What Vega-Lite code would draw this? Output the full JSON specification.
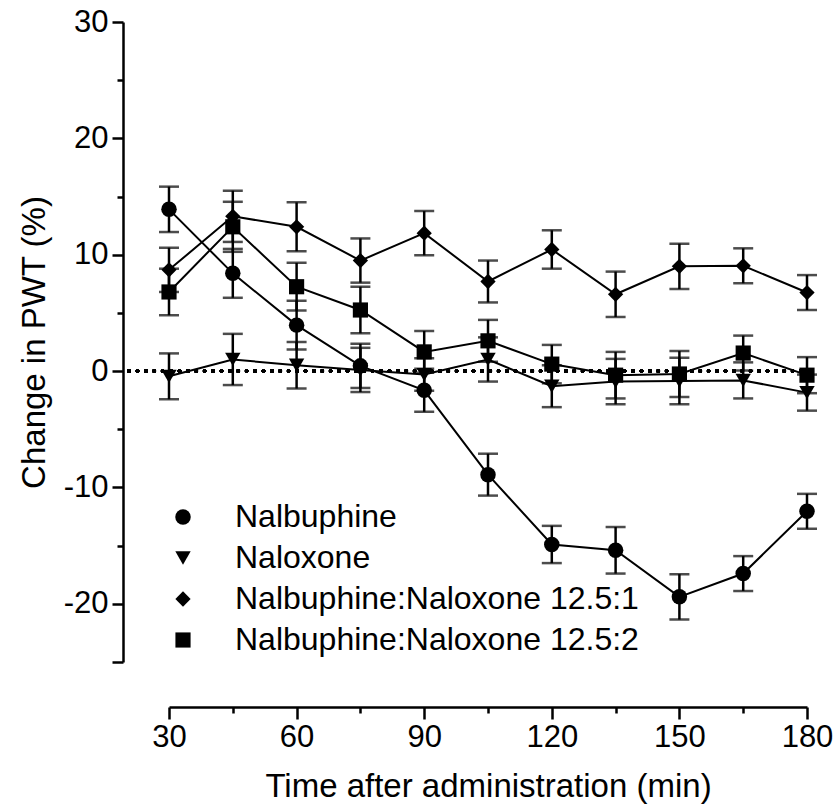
{
  "$schema": "https://vega.github.io/schema/vega-lite/v6.json",
  "width": 638,
  "height": 640,
  "autosize": {"type": "none"},
  "padding": {"left": 169, "top": 22, "right": 27, "bottom": 147},
  "background": "white",
  "config": {
    "view": {"stroke": null},
    "font": "Liberation Sans",
    "axis": {"grid": false, "domainColor": "black", "tickColor": "black", "labelColor": "black", "titleColor": "black", "labelFont": "Liberation Sans", "titleFont": "Liberation Sans", "titleFontWeight": "normal", "domainWidth": 2.5, "tickWidth": 2.5, "labelOverlap": false, "labelFlush": false, "labelBound": false}
  },
  "data": {"values": [
    {"series": "Nalbuphine", "time": 30, "mean": 13.9, "sem": 1.95},
    {"series": "Nalbuphine", "time": 45, "mean": 8.4, "sem": 2.1},
    {"series": "Nalbuphine", "time": 60, "mean": 3.95, "sem": 2.1},
    {"series": "Nalbuphine", "time": 75, "mean": 0.45, "sem": 1.9},
    {"series": "Nalbuphine", "time": 90, "mean": -1.65, "sem": 1.85},
    {"series": "Nalbuphine", "time": 105, "mean": -8.9, "sem": 1.8},
    {"series": "Nalbuphine", "time": 120, "mean": -14.9, "sem": 1.6},
    {"series": "Nalbuphine", "time": 135, "mean": -15.4, "sem": 2.0},
    {"series": "Nalbuphine", "time": 150, "mean": -19.4, "sem": 1.95},
    {"series": "Nalbuphine", "time": 165, "mean": -17.4, "sem": 1.5},
    {"series": "Nalbuphine", "time": 180, "mean": -12.05, "sem": 1.5},
    {"series": "Naloxone", "time": 30, "mean": -0.45, "sem": 1.97},
    {"series": "Naloxone", "time": 45, "mean": 1.0, "sem": 2.2},
    {"series": "Naloxone", "time": 60, "mean": 0.5, "sem": 2.0},
    {"series": "Naloxone", "time": 75, "mean": 0.1, "sem": 1.9},
    {"series": "Naloxone", "time": 90, "mean": -0.3, "sem": 1.4},
    {"series": "Naloxone", "time": 105, "mean": 1.0, "sem": 1.9},
    {"series": "Naloxone", "time": 120, "mean": -1.3, "sem": 1.8},
    {"series": "Naloxone", "time": 135, "mean": -0.9, "sem": 1.95},
    {"series": "Naloxone", "time": 150, "mean": -0.85, "sem": 2.0},
    {"series": "Naloxone", "time": 165, "mean": -0.8, "sem": 1.55},
    {"series": "Naloxone", "time": 180, "mean": -1.85, "sem": 1.55},
    {"series": "Nalbuphine:Naloxone 12.5:1", "time": 30, "mean": 8.7, "sem": 1.9},
    {"series": "Nalbuphine:Naloxone 12.5:1", "time": 45, "mean": 13.3, "sem": 2.2},
    {"series": "Nalbuphine:Naloxone 12.5:1", "time": 60, "mean": 12.4, "sem": 2.1},
    {"series": "Nalbuphine:Naloxone 12.5:1", "time": 75, "mean": 9.5, "sem": 1.9},
    {"series": "Nalbuphine:Naloxone 12.5:1", "time": 90, "mean": 11.85, "sem": 1.9},
    {"series": "Nalbuphine:Naloxone 12.5:1", "time": 105, "mean": 7.7, "sem": 1.8},
    {"series": "Nalbuphine:Naloxone 12.5:1", "time": 120, "mean": 10.45, "sem": 1.65},
    {"series": "Nalbuphine:Naloxone 12.5:1", "time": 135, "mean": 6.6, "sem": 1.95},
    {"series": "Nalbuphine:Naloxone 12.5:1", "time": 150, "mean": 9.0, "sem": 1.95},
    {"series": "Nalbuphine:Naloxone 12.5:1", "time": 165, "mean": 9.05, "sem": 1.5},
    {"series": "Nalbuphine:Naloxone 12.5:1", "time": 180, "mean": 6.75, "sem": 1.5},
    {"series": "Nalbuphine:Naloxone 12.5:2", "time": 30, "mean": 6.8, "sem": 2.0},
    {"series": "Nalbuphine:Naloxone 12.5:2", "time": 45, "mean": 12.4, "sem": 2.15},
    {"series": "Nalbuphine:Naloxone 12.5:2", "time": 60, "mean": 7.25, "sem": 2.05},
    {"series": "Nalbuphine:Naloxone 12.5:2", "time": 75, "mean": 5.25, "sem": 2.0},
    {"series": "Nalbuphine:Naloxone 12.5:2", "time": 90, "mean": 1.65, "sem": 1.8},
    {"series": "Nalbuphine:Naloxone 12.5:2", "time": 105, "mean": 2.6, "sem": 1.8},
    {"series": "Nalbuphine:Naloxone 12.5:2", "time": 120, "mean": 0.6, "sem": 1.65},
    {"series": "Nalbuphine:Naloxone 12.5:2", "time": 135, "mean": -0.35, "sem": 2.0},
    {"series": "Nalbuphine:Naloxone 12.5:2", "time": 150, "mean": -0.25, "sem": 1.97},
    {"series": "Nalbuphine:Naloxone 12.5:2", "time": 165, "mean": 1.55, "sem": 1.5},
    {"series": "Nalbuphine:Naloxone 12.5:2", "time": 180, "mean": -0.35, "sem": 1.55}
  ]},
  "encoding": {
    "x": {"field": "time", "type": "quantitative",
      "scale": {"domain": [30, 180], "nice": false, "zero": false},
      "axis": {"title": "Time after administration (min)", "titleFontSize": 33, "labelFontSize": 31,
        "values": [30, 45, 60, 75, 90, 105, 120, 135, 150, 165, 180],
        "labelExpr": "datum.value % 30 === 0 ? '' + datum.value : ''",
        "tickSize": {"condition": {"test": "datum.value % 30 !== 0", "value": 6}, "value": 12},
        "offset": 45, "labelPadding": 3, "titlePadding": 18}},
    "y": {"field": "mean", "type": "quantitative",
      "scale": {"domain": [-25, 30], "nice": false, "zero": false},
      "axis": {"title": "Change in PWT (%)", "titleFontSize": 33, "labelFontSize": 31,
        "values": [-25, -20, -15, -10, -5, 0, 5, 10, 15, 20, 25, 30],
        "labelExpr": "datum.value % 10 === 0 ? '' + datum.value : ''",
        "tickSize": {"condition": {"test": "datum.value % 10 !== 0 && datum.value !== -25", "value": 6}, "value": 11},
        "offset": 46, "labelPadding": 4, "titlePadding": 12}}
  },
  "layer": [
    {
      "mark": {"type": "rule", "strokeDash": [0.1, 8.3], "strokeCap": "round", "strokeWidth": 3.5, "color": "black"},
      "encoding": {"x": {"datum": 20.6, "type": "quantitative"}, "x2": {"datum": 182}, "y": {"datum": 0, "type": "quantitative"}}
    },
    {
      "mark": {"type": "line", "color": "black", "strokeWidth": 2},
      "encoding": {"detail": {"field": "series"}}
    },
    {
      "mark": {"type": "errorbar", "ticks": true, "size": 20, "thickness": 2.5, "color": "black"},
      "encoding": {"yError": {"field": "sem"}, "detail": {"field": "series"}}
    },
    {
      "mark": {"type": "point", "filled": true, "color": "black", "opacity": 1},
      "encoding": {
        "shape": {"field": "series", "type": "nominal",
          "scale": {"domain": ["Nalbuphine", "Naloxone", "Nalbuphine:Naloxone 12.5:1", "Nalbuphine:Naloxone 12.5:2"], "range": ["circle", "triangle-down", "diamond", "square"]},
          "legend": {"title": null, "orient": "none", "legendX": -2, "legendY": 479, "labelFontSize": 32, "labelFont": "Liberation Sans", "labelColor": "black", "labelLimit": 0, "rowPadding": 9, "labelOffset": 36, "padding": 0, "symbolStrokeWidth": 0, "symbolFillColor": "black", "symbolOpacity": 1}},
        "size": {"field": "series", "type": "nominal",
          "scale": {"domain": ["Nalbuphine", "Naloxone", "Nalbuphine:Naloxone 12.5:1", "Nalbuphine:Naloxone 12.5:2"], "range": [240, 230, 330, 300]},
          "legend": {"title": null, "orient": "none", "legendX": -2, "legendY": 479, "labelFontSize": 32, "labelFont": "Liberation Sans", "labelColor": "black", "labelLimit": 0, "rowPadding": 9, "labelOffset": 36, "padding": 0, "symbolStrokeWidth": 0, "symbolFillColor": "black", "symbolOpacity": 1}}
      }
    }
  ]
}
